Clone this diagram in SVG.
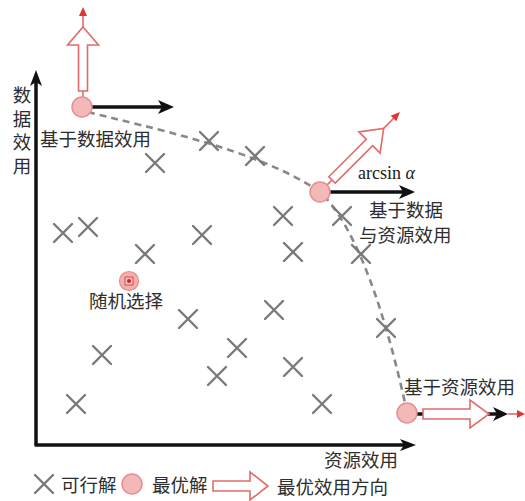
<svg xmlns="http://www.w3.org/2000/svg" width="525" height="501" viewBox="0 0 525 501">
<defs>
<style>
.cjk{font-family:"Noto Sans CJK SC","Noto Sans",sans-serif;font-size:18.5px;fill:#2e2e2e}
.ser{font-family:"Liberation Serif",serif;font-size:18px;fill:#1a1a1a}
.x{stroke:#7a7a7a;stroke-width:2.4;fill:none;stroke-linecap:round}
.opt{fill:#f3b8b8;stroke:#e58f8f;stroke-width:1.5}
.hol{fill:#fff;stroke:#e36a6a;stroke-width:1.6;stroke-linejoin:miter}
.rl{stroke:#e36a6a;stroke-width:1.6}
.rh{fill:#e03535}
.bl{stroke:#111;stroke-width:3.5}
.bh{fill:#111}
.axis{stroke:#111;stroke-width:3.5;fill:none}
</style>
<g id="cross"><path class="x" d="M-9,-9L9,9M9,-9L-9,9"/></g>
</defs>
<rect width="525" height="501" fill="#fff"/>

<g id="connectors">
<path d="M88,112 C150,128 260,150 320,192 C350,220 380,290 405,403" fill="none" stroke="#888" stroke-width="2.6" stroke-dasharray="7,5"/>
<g id="axes">
<path class="axis" d="M36,445 L36,82"/>
<polygon class="bh" points="36,70 42,86 36,82 30,86"/>
<path class="axis" d="M34.5,445 L404,445"/>
<polygon class="bh" points="416,445 400,451 404,445 400,439"/>
</g>
</g>

<g id="feasible">
<use href="#cross" x="209" y="141"/>
<use href="#cross" x="255" y="156"/>
<use href="#cross" x="155" y="163"/>
<use href="#cross" x="63" y="233"/>
<use href="#cross" x="88" y="227"/>
<use href="#cross" x="145" y="254"/>
<use href="#cross" x="202" y="235"/>
<use href="#cross" x="283" y="216"/>
<use href="#cross" x="342" y="216"/>
<use href="#cross" x="293" y="252"/>
<use href="#cross" x="361" y="254"/>
<use href="#cross" x="188" y="319"/>
<use href="#cross" x="102" y="355"/>
<use href="#cross" x="76" y="404"/>
<use href="#cross" x="217" y="376"/>
<use href="#cross" x="237" y="348"/>
<use href="#cross" x="274" y="310"/>
<use href="#cross" x="386" y="328"/>
<use href="#cross" x="293" y="367"/>
<use href="#cross" x="322" y="404"/>
</g>

<g id="opt-data">
<path class="bl" d="M90,107 L162,107"/>
<polygon class="bh" points="174,107 158,114 162,107 158,100"/>
<g transform="translate(83,107)">
<path class="rl" d="M0,-9 L0,-17"/>
<path class="hol" d="M-4.5,-16 L-4.5,-62 L-15.5,-62 L0,-80 L15.5,-62 L4.5,-62 L4.5,-16 Z"/>
<path class="rl" d="M0,-80 L0,-94"/>
<polygon class="rh" points="0,-100 4,-91 -4,-91"/>
</g>
<circle class="opt" cx="82" cy="107" r="10"/>
<text class="cjk" x="40" y="146">基于数据效用</text>
</g>

<g id="opt-mid">
<path class="bl" d="M328,192 L403,192"/>
<polygon class="bh" points="415,192 399,199 403,192 399,185"/>
<g transform="translate(320,192) rotate(45)">
<path class="rl" d="M0,-9 L0,-18"/>
<path class="hol" d="M-4.5,-17 L-4.5,-70 L-15,-70 L0,-90 L15,-70 L4.5,-70 L4.5,-17 Z"/>
<path class="rl" d="M0,-90 L0,-107"/>
<polygon class="rh" points="0,-113 4,-104 -4,-104"/>
</g>
<circle class="opt" cx="320" cy="192" r="10"/>
<text class="ser" x="358" y="179">arcsin <tspan font-style="italic">α</tspan></text>
<text class="cjk" x="369" y="217">基于数据</text>
<text class="cjk" x="359" y="242">与资源效用</text>
</g>

<g id="opt-res">
<path class="bl" d="M415,414 L497,414"/>
<polygon class="bh" points="508,414 493,421 497,414 493,407"/>
<path class="rl" d="M508,414 L520,414"/>
<polygon class="rh" points="525,414 517,418 517,410"/>
<path class="hol" d="M423,409 L470,409 L470,400 L489,414 L470,428 L470,419 L423,419 Z"/>
<circle class="opt" cx="407" cy="413" r="10"/>
<text class="cjk" x="404" y="394">基于资源效用</text>
</g>

<g id="random">
<circle cx="129" cy="281" r="9.5" fill="#f4b0b0" stroke="#ea8a8a" stroke-width="1.2"/>
<rect x="125" y="277" width="8" height="8" fill="#f3c0c0" stroke="#c84848" stroke-width="0.9"/>
<circle cx="129" cy="281" r="2" fill="#d82020"/>
<text class="cjk" x="89" y="308">随机选择</text>
</g>

<g id="labels">
<text class="cjk" x="22" y="86" writing-mode="vertical-rl" letter-spacing="5">数据效用</text>
<text class="cjk" x="398" y="467" text-anchor="end">资源效用</text>
</g>

<g id="legend">
<use href="#cross" x="44" y="484"/>
<text class="cjk" x="61" y="492">可行解</text>
<circle class="opt" cx="132" cy="484" r="10"/>
<text class="cjk" x="152" y="492">最优解</text>
<path class="hol" d="M213,481 L250,481 L250,472 L268,486 L250,500 L250,491 L213,491 Z"/>
<text class="cjk" x="277" y="494">最优效用方向</text>
</g>
</svg>
